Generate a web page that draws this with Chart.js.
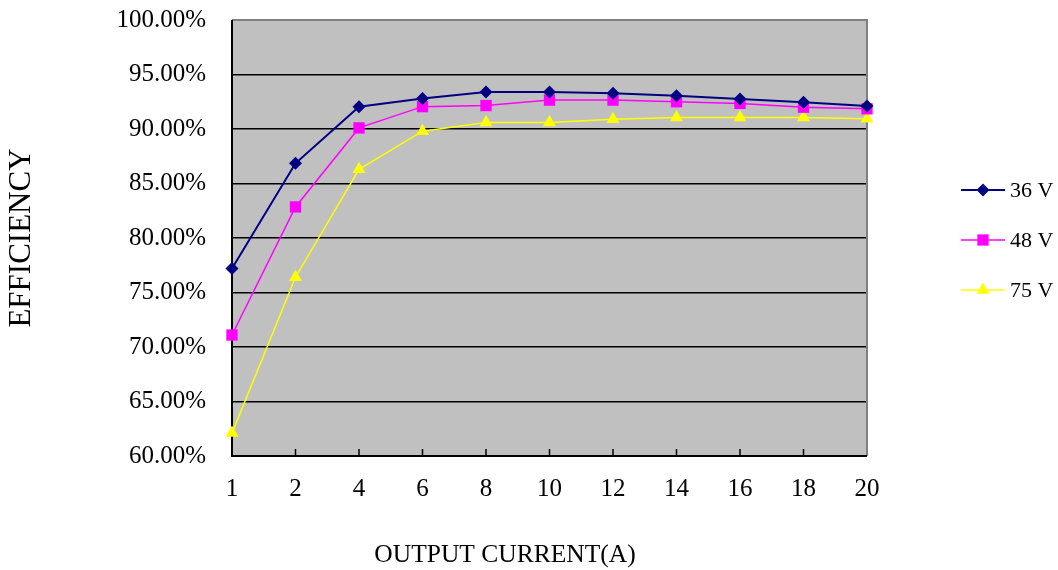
<!DOCTYPE html>
<html>
<head>
<meta charset="utf-8">
<script src="https://cdn.jsdelivr.net/npm/chart.js@4/dist/chart.umd.min.js"></script>
<style>
  html, body { margin: 0; padding: 0; background: #fff; }
  #wrap { width: 1058px; height: 570px; }
</style>
</head>
<body>
<div id="wrap"><canvas id="effChart"></canvas></div>
<script>
const currents = ['1', '2', '4', '6', '8', '10', '12', '14', '16', '18', '20'];
const eff36 = [77.2, 86.85, 92.05, 92.8, 93.4, 93.4, 93.27, 93.05, 92.75, 92.45, 92.1];
const eff48 = [71.1, 82.85, 90.1, 92.05, 92.15, 92.65, 92.65, 92.5, 92.35, 92.0, 91.85];
const eff75 = [62.1, 76.4, 86.3, 89.8, 90.6, 90.6, 90.9, 91.05, 91.05, 91.05, 90.95];
const yTicks = [60, 65, 70, 75, 80, 85, 90, 95, 100];

const serif = '"Liberation Serif", "Times New Roman", serif';

// gray plot area with gray top/right frame, inward x ticks, titles, legend
const decor = {
    id: 'decor',
    beforeDraw(chart) {
        const { ctx, chartArea: a } = chart;
        ctx.save();
        ctx.fillStyle = '#c0c0c0';
        ctx.fillRect(a.left, a.top, a.right - a.left, a.bottom - a.top);
        ctx.restore();
    },
    beforeDatasetsDraw(chart) {
        const { ctx, chartArea: a, scales } = chart;
        ctx.save();
        ctx.strokeStyle = '#808080';
        ctx.lineWidth = 2;
        ctx.beginPath();
        ctx.moveTo(a.left, a.top);
        ctx.lineTo(a.right, a.top);
        ctx.lineTo(a.right, a.bottom);
        ctx.stroke();
        // axes
        ctx.strokeStyle = '#000';
        ctx.lineWidth = 2;
        ctx.beginPath();
        ctx.moveTo(a.left, a.top);
        ctx.lineTo(a.left, a.bottom);
        ctx.lineTo(a.right, a.bottom);
        ctx.stroke();
        ctx.lineWidth = 1.5;
        ctx.beginPath();
        for (let i = 1; i < currents.length - 1; i++) {
            const x = scales.x.getPixelForTick(i);
            ctx.moveTo(x, a.bottom);
            ctx.lineTo(x, a.bottom - 7);
        }
        ctx.stroke();
        ctx.restore();
    },
    afterDraw(chart) {
        const { ctx, chartArea: a } = chart;
        ctx.save();
        ctx.fillStyle = '#000';
        ctx.textAlign = 'center';
        ctx.textBaseline = 'middle';
        ctx.font = '25.5px ' + serif;
        ctx.fillText('OUTPUT CURRENT(A)', 505, 555);
        ctx.font = '31px ' + serif;
        ctx.translate(22, (a.top + a.bottom) / 2);
        ctx.rotate(-Math.PI / 2);
        ctx.fillText('EFFICIENCY', 0, 0);
        ctx.restore();

        // legend
        ctx.save();
        ctx.font = '22px ' + serif;
        ctx.textBaseline = 'middle';
        const ys = [190, 240, 290];
        chart.data.datasets.forEach((ds, i) => {
            const y = ys[i];
            ctx.strokeStyle = ds.borderColor;
            ctx.lineWidth = ds.borderWidth;
            ctx.beginPath();
            ctx.moveTo(961, y);
            ctx.lineTo(1005, y);
            ctx.stroke();
            ctx.fillStyle = ds.pointBackgroundColor;
            Chart.helpers.drawPoint(ctx, {
                pointStyle: ds.pointStyle,
                radius: ds.pointRadius,
                borderWidth: 0,
                rotation: 0
            }, 983, y);
            ctx.fillStyle = '#000';
            ctx.fillText(ds.label, 1010, y + 1);
        });
        ctx.restore();
    }
};

new Chart('effChart', {
    type: 'line',
    data: {
        labels: currents,
        datasets: [
            {
                label: '36 V',
                data: eff36,
                borderColor: '#000080',
                backgroundColor: '#000080',
                pointBackgroundColor: '#000080',
                pointBorderColor: '#000080',
                borderWidth: 2,
                pointStyle: 'rectRot',
                pointRadius: 6.5,
                pointBorderWidth: 0
            },
            {
                label: '48 V',
                data: eff48,
                borderColor: '#ff00ff',
                backgroundColor: '#ff00ff',
                pointBackgroundColor: '#ff00ff',
                pointBorderColor: '#ff00ff',
                borderWidth: 1.5,
                pointStyle: 'rect',
                pointRadius: 8,
                pointBorderWidth: 0
            },
            {
                label: '75 V',
                data: eff75,
                borderColor: '#ffff00',
                backgroundColor: '#ffff00',
                pointBackgroundColor: '#ffff00',
                pointBorderColor: '#ffff00',
                borderWidth: 1.5,
                pointStyle: 'triangle',
                pointRadius: 7.5,
                pointBorderWidth: 0
            }
        ]
    },
    options: {
        responsive: true,
        maintainAspectRatio: false,
        animation: false,
        clip: false,
        layout: { padding: { top: 20, right: 191, left: 0, bottom: 0 } },
        plugins: {
            legend: { display: false },
            tooltip: { enabled: false }
        },
        scales: {
            x: {
                offset: false,
                grid: { display: false },
                border: { display: false },
                ticks: {
                    color: '#000',
                    font: { family: serif, size: 25 },
                    padding: 10,
                    maxRotation: 0
                },
                afterFit(scale) {
                    scale.height = 114;
                    scale.paddingLeft = 0;
                    scale.paddingRight = 0;
                }
            },
            y: {
                min: 60,
                max: 100,
                afterBuildTicks(scale) {
                    scale.ticks = yTicks.map(v => ({ value: v }));
                },
                grid: {
                    drawTicks: false,
                    lineWidth: 1.5,
                    color: ctx => ctx.tick && ctx.tick.value === 100 ? 'rgba(0,0,0,0)' : '#000'
                },
                border: { display: false },
                ticks: {
                    color: '#000',
                    font: { family: serif, size: 25 },
                    padding: 26,
                    callback: v => v.toFixed(2) + '%'
                },
                afterFit(scale) {
                    scale.width = 232;
                    scale.paddingTop = 0;
                    scale.paddingBottom = 0;
                }
            }
        }
    },
    plugins: [decor]
});
</script>
</body>
</html>
